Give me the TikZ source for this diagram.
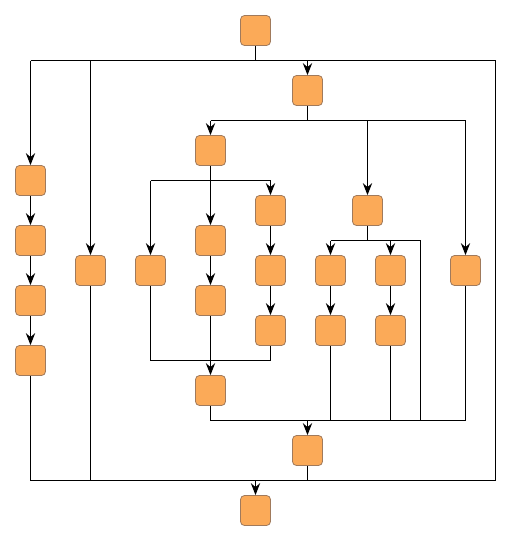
\documentclass[tikz,border=0pt]{standalone}
\usetikzlibrary{arrows.meta}
\definecolor{boxfill}{RGB}{251,170,88}
\definecolor{boxline}{RGB}{160,122,92}
\begin{document}
\begin{tikzpicture}[x=0.75pt,y=-0.75pt,
  task/.style={draw=boxline,fill=boxfill,line width=0.6pt,rounded corners=3pt,
    minimum width=22.5pt,minimum height=22.5pt,inner sep=0pt},
  wire/.style={draw=black,line width=0.85pt},
  flow/.style={wire,-{Stealth[length=9pt,width=7pt,inset=3pt]}}]
\useasboundingbox (0,0) rectangle (511,540);
% tasks
\node[task] (n0) at (255.5,30.5) {};
\node[task] (a)  at (307.5,90.5) {};
\node[task] (b)  at (210.5,150.5) {};
\node[task] (l1) at (30.5,180.5) {};
\node[task] (l2) at (30.5,240.5) {};
\node[task] (l3) at (30.5,300.5) {};
\node[task] (l4) at (30.5,360.5) {};
\node[task] (p)  at (90.5,270.5) {};
\node[task] (c1) at (150.5,270.5) {};
\node[task] (d1) at (210.5,240.5) {};
\node[task] (d2) at (210.5,300.5) {};
\node[task] (e1) at (270.5,210.5) {};
\node[task] (e2) at (270.5,270.5) {};
\node[task] (e3) at (270.5,330.5) {};
\node[task] (f)  at (367.5,210.5) {};
\node[task] (g1) at (330.5,270.5) {};
\node[task] (g2) at (330.5,330.5) {};
\node[task] (h1) at (390.5,270.5) {};
\node[task] (h2) at (390.5,330.5) {};
\node[task] (r)  at (465.5,270.5) {};
\node[task] (m)  at (210.5,390.5) {};
\node[task] (k)  at (307.5,450.5) {};
\node[task] (z)  at (255.5,510.5) {};
% split and join points
\coordinate (s0) at (255.5,60.5);
\coordinate (q0) at (495.5,60.5);
\coordinate (q1) at (495.5,480.5);
\coordinate (j0) at (255.5,480.5);
\coordinate (s1) at (307.5,120.5);
\coordinate (s2) at (210.5,180.5);
\coordinate (j1) at (210.5,360.5);
\coordinate (s3) at (367.5,240.5);
\coordinate (t3) at (420.5,420.5);
\coordinate (j2) at (307.5,420.5);
% outer split and outer join, closed on the right
\draw[wire] (n0) -- (s0);
\draw[wire] (l1 |- s0) -- (q0) -- (q1) -- (l4 |- q1);
\draw[flow] (l1 |- s0) -- (l1);
\draw[flow] (p |- s0) -- (p);
\draw[flow] (a |- s0) -- (a);
\draw[wire] (l4) -- (l4 |- j0);
\draw[wire] (p) -- (p |- j0);
\draw[wire] (k) -- (k |- j0);
\draw[flow] (j0) -- (z);
% left chain
\draw[flow] (l1) -- (l2);
\draw[flow] (l2) -- (l3);
\draw[flow] (l3) -- (l4);
% second split
\draw[wire] (a) -- (s1);
\draw[wire] (b |- s1) -- (r |- s1);
\draw[flow] (b |- s1) -- (b);
\draw[flow] (f |- s1) -- (f);
\draw[flow] (r |- s1) -- (r);
% third split and its join
\draw[wire] (b) -- (s2);
\draw[wire] (c1 |- s2) -- (e1 |- s2);
\draw[flow] (c1 |- s2) -- (c1);
\draw[flow] (s2) -- (d1);
\draw[flow] (e1 |- s2) -- (e1);
\draw[flow] (d1) -- (d2);
\draw[flow] (e1) -- (e2);
\draw[flow] (e2) -- (e3);
\draw[wire] (c1) |- (e3 |- j1) -- (e3);
\draw[wire] (d2) -- (j1);
\draw[flow] (j1) -- (m);
% fourth split
\draw[wire] (f) -- (s3);
\draw[wire] (g1 |- s3) -- (t3 |- s3) -- (t3);
\draw[flow] (g1 |- s3) -- (g1);
\draw[flow] (h1 |- s3) -- (h1);
\draw[flow] (g1) -- (g2);
\draw[flow] (h1) -- (h2);
% inner join
\draw[wire] (m) |- (r |- j2) -- (r);
\draw[wire] (g2) -- (g2 |- j2);
\draw[wire] (h2) -- (h2 |- j2);
\draw[flow] (j2) -- (k);
\end{tikzpicture}
\end{document}
